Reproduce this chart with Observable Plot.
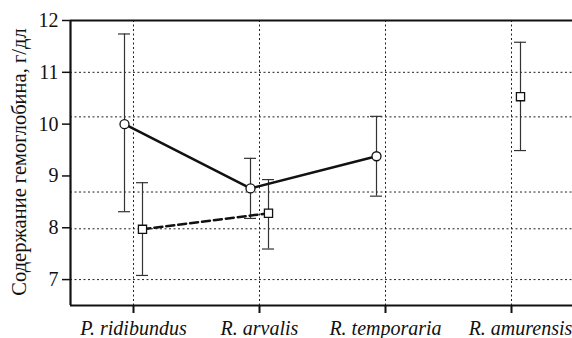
<!DOCTYPE html>
<html>
<head>
<meta charset="utf-8">
<script src="https://cdn.jsdelivr.net/npm/d3@7"></script>
<script src="https://cdn.jsdelivr.net/npm/@observablehq/plot@0.6"></script>
<style>
  html, body { margin: 0; padding: 0; background: #fff; }
  #chart svg text { font-family: "Liberation Serif", serif !important; }
</style>
</head>
<body>
<div id="chart"></div>
<script>
const species = ["P. ridibundus", "R. arvalis", "R. temporaria", "R. amurensis"];
// series A: circles, solid line
const meanA = [10.0, 8.76, 9.38, null];
const lowA  = [8.31, 8.18, 8.61, null];
const highA = [11.74, 9.34, 10.15, null];
// series B: squares, dashed line
const meanB = [7.97, 8.28, null, 10.53];
const lowB  = [7.08, 7.59, null, 9.49];
const highB = [8.87, 8.93, null, 11.58];
const yTicks = [7, 8, 9, 10, 11, 12];
const gridY = [7, 7.98, 8.69, 10.14, 11];
const yLabel = "Содержание гемоглобина, г/дл";

const A = species.map((s, i) => ({s, m: meanA[i], lo: lowA[i], hi: highA[i]}));
const B = species.map((s, i) => ({s, m: meanB[i], lo: lowB[i], hi: highB[i]}));
const Aok = A.filter(d => d.m != null);
const Bok = B.filter(d => d.m != null);

const font = "Liberation Serif";
const offA = -9, offB = 9, cap = 6;

const errMarks = (data, dx) => [
  Plot.ruleX(data, {x: "s", y1: "lo", y2: "hi", dx, stroke: "#333", strokeWidth: 1.2}),
  Plot.ruleY(data, {y: "hi", x1: "s", x2: "s", dx, insetLeft: -cap, insetRight: -cap, stroke: "#333", strokeWidth: 1.2}),
  Plot.ruleY(data, {y: "lo", x1: "s", x2: "s", dx, insetLeft: -cap, insetRight: -cap, stroke: "#333", strokeWidth: 1.2})
];

const chart = Plot.plot({
  width: 572,
  height: 338,
  marginTop: 20,
  marginBottom: 33,
  marginLeft: 70,
  marginRight: 0,
  style: "font-family: 'Liberation Serif', serif; background: #fff; color: #111;",
  x: {type: "point", domain: species, range: [70, 574], padding: 0.5},
  y: {domain: [6.5, 12]},
  marks: [
    Plot.ruleY(gridY, {stroke: "#222", strokeWidth: 1, strokeDasharray: "2,2.5"}),
    Plot.ruleX(species, {x: d => d, stroke: "#222", strokeWidth: 1, strokeDasharray: "2,2.5"}),
    Plot.axisY({ticks: yTicks, tickSize: 8, tickFormat: () => "", label: null, stroke: "#111", strokeWidth: 1.5}),
    Plot.axisX({tickSize: 8, tickFormat: () => "", label: null, stroke: "#111", strokeWidth: 2}),
    Plot.text(yTicks, {y: d => d, text: d => String(d), frameAnchor: "left", textAnchor: "end", dx: -12, fontSize: 20, fontFamily: font, fill: "#111"}),
    Plot.text(species.slice(0, 3), {x: d => d, text: d => d, frameAnchor: "bottom", lineAnchor: "top", dy: 15, fontSize: 20, fontStyle: "italic", fontFamily: font, fill: "#111"}),
    Plot.text(species.slice(3), {x: d => d, text: d => d, frameAnchor: "bottom", lineAnchor: "top", dy: 15, dx: 9, fontSize: 20, fontStyle: "italic", fontFamily: font, fill: "#111"}),
    Plot.text([yLabel], {frameAnchor: "left", text: d => d, rotate: -90, textAnchor: "middle", dx: -51, dy: -1, fontSize: 20.5, fontFamily: font, fill: "#111"}),
    Plot.ruleX([6.5], {x: () => species[0], y1: 6.5, y2: 12, dx: -63, stroke: "#111", strokeWidth: 2.2}),
    Plot.ruleY([6.5], {stroke: "#111", strokeWidth: 2.2}),
    Plot.ruleY([12], {stroke: "#111", strokeWidth: 2.2}),
    ...errMarks(Aok, offA),
    ...errMarks(Bok, offB),
    Plot.line(A, {x: "s", y: "m", dx: offA, stroke: "#111", strokeWidth: 2.5}),
    Plot.line(B, {x: "s", y: "m", dx: offB, stroke: "#111", strokeWidth: 2.5, strokeDasharray: "8,4"}),
    Plot.dot(Aok, {x: "s", y: "m", dx: offA, r: 4.5, fill: "#fff", stroke: "#111", strokeWidth: 1.3}),
    Plot.dot(Bok, {x: "s", y: "m", dx: offB, r: 4.6, symbol: "square", fill: "#fff", stroke: "#111", strokeWidth: 1.3})
  ]
});
document.getElementById("chart").appendChild(chart);
</script>
</body>
</html>
